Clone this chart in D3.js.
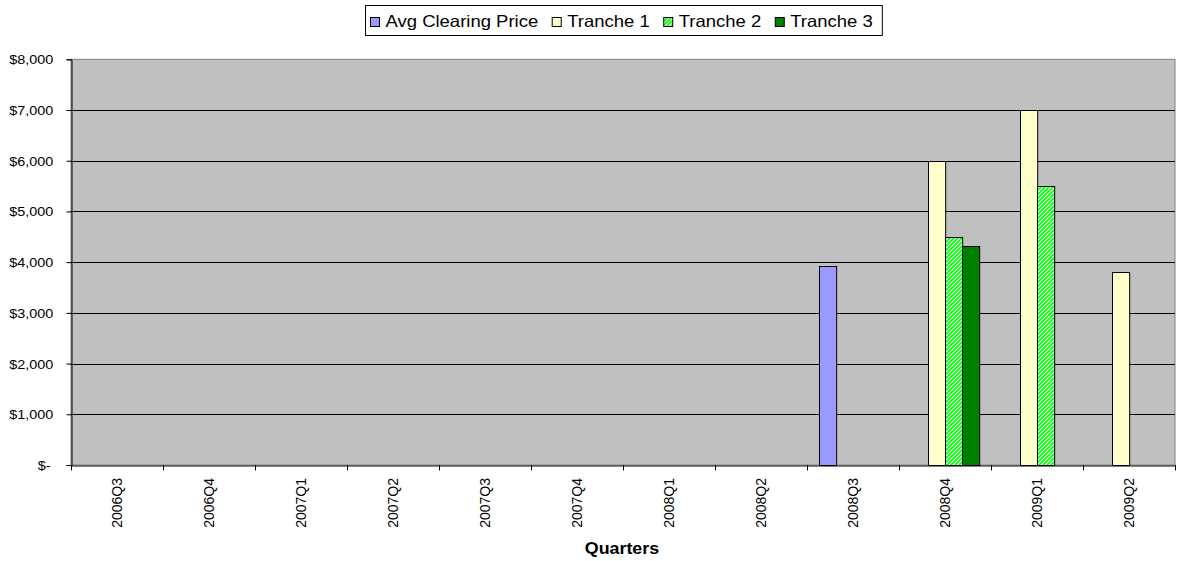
<!DOCTYPE html>
<html>
<head>
<meta charset="utf-8">
<script src="https://d3js.org/d3.v7.min.js"></script>
<style>
  html, body { margin: 0; padding: 0; background: #ffffff; }
  svg { display: block; }
  text { font-family: Arial, "Liberation Sans", sans-serif; fill: #000; }
</style>
</head>
<body>
<svg id="chart" width="1179" height="561"></svg>
<script>
// ---- data ----
const quarters = ["2006Q3","2006Q4","2007Q1","2007Q2","2007Q3","2007Q4","2008Q1","2008Q2","2008Q3","2008Q4","2009Q1","2009Q2"];
const seriesNames = ["Avg Clearing Price","Tranche 1","Tranche 2","Tranche 3"];
const avgClearingPrice = [null,null,null,null,null,null,null,null,3930,null,null,null];
const tranche1 = [null,null,null,null,null,null,null,null,null,6000,7000,3800];
const tranche2 = [null,null,null,null,null,null,null,null,null,4500,5500,null];
const tranche3 = [null,null,null,null,null,null,null,null,null,4310,null,null];
const yTickValues = [0,1000,2000,3000,4000,5000,6000,7000,8000];
const xAxisTitle = "Quarters";

// ---- layout ----
const svg = d3.select("#chart");
const plot = { left: 71, right: 1175, top: 59.3, bottom: 465 };
const seriesValues = [avgClearingPrice, tranche1, tranche2, tranche3];

const defs = svg.append("defs");
const pat = defs.append("pattern")
  .attr("id", "hatch").attr("patternUnits", "userSpaceOnUse")
  .attr("width", 4).attr("height", 4);
pat.append("rect").attr("width", 4).attr("height", 4).attr("fill", "#ffffff");
pat.append("path").attr("d", "M-1,1 L1,-1 M0,4 L4,0 M3,5 L5,3")
  .attr("stroke", "#00ff00").attr("stroke-width", 1.7);

const fills = ["#9999ff", "#ffffcc", "url(#hatch)", "#008000"];

function stretch(sel, sx) {
  sel.each(function() {
    const L = this.getComputedTextLength();
    d3.select(this).attr("textLength", L * sx).attr("lengthAdjust", "spacingAndGlyphs");
  });
}

const x0 = d3.scaleBand().domain(quarters).range([plot.left, plot.right]).paddingInner(0).paddingOuter(0);
const x1 = d3.scaleBand().domain(seriesNames).range([0, x0.bandwidth()]).paddingInner(0).paddingOuter(0.68);
const y = d3.scaleLinear().domain([0, 8000]).range([plot.bottom, plot.top]);

// plot background
svg.append("rect")
  .attr("x", plot.left).attr("y", plot.top)
  .attr("width", plot.right - plot.left).attr("height", plot.bottom - plot.top)
  .attr("fill", "#c0c0c0").attr("stroke", "#808080").attr("stroke-width", 1);

// gridlines
svg.append("g").selectAll("line")
  .data(yTickValues.filter(d => d > 0 && d < 8000))
  .join("line")
  .attr("x1", plot.left).attr("x2", plot.right)
  .attr("y1", d => Math.round(y(d)) + 0.5).attr("y2", d => Math.round(y(d)) + 0.5)
  .attr("stroke", "#000").attr("stroke-width", 1);

// bars
const data = [];
quarters.forEach((q, i) => {
  seriesNames.forEach((s, j) => {
    const v = seriesValues[j][i];
    if (v != null) data.push({ q, s, v, j });
  });
});
svg.append("g").selectAll("rect")
  .data(data)
  .join("rect")
  .attr("x", d => Math.round(x0(d.q) + x1(d.s)) + 0.5)
  .attr("y", d => Math.round(y(d.v)) + 0.5)
  .attr("width", x1.bandwidth())
  .attr("height", d => Math.round(y(0)) - Math.round(y(d.v)))
  .attr("fill", d => fills[d.j])
  .attr("stroke", "#000").attr("stroke-width", 1);

// y axis
const yAxis = d3.axisLeft(y).tickValues(yTickValues).tickSize(5).tickPadding(13)
  .tickFormat(d => d === 0 ? "$-" : "$" + d3.format(",")(d));
const gy = svg.append("g").attr("transform", `translate(${plot.left + 0.5},0)`).call(yAxis);
gy.select(".domain").attr("stroke", "#000");
gy.selectAll(".tick line").attr("stroke", "#000");
gy.selectAll(".tick text")
  .style("font-size", "12px").attr("fill", "#000")
  .attr("dy", "0.37em")
  .attr("x", d => d === 0 ? -21 : -18.3);
gy.selectAll(".tick text").call(stretch, 1.2);

// x axis
const xAxis = d3.axisBottom(x0).tickSize(0).tickFormat("");
const gx = svg.append("g").attr("transform", `translate(0,${plot.bottom + 0.5})`).call(xAxis);
gx.select(".domain").attr("stroke", "#000");
gx.selectAll(".tick").remove();
// tick marks at band boundaries
const boundaries = quarters.map(q => x0(q)).concat([plot.right]);
svg.append("g").selectAll("line")
  .data(boundaries)
  .join("line")
  .attr("x1", d => Math.round(d) + 0.5).attr("x2", d => Math.round(d) + 0.5)
  .attr("y1", plot.bottom).attr("y2", plot.bottom + 5.5)
  .attr("stroke", "#000");

// x labels
svg.append("g").selectAll("text")
  .data(quarters)
  .join("text")
  .attr("transform", d => `translate(${x0(d) + x0.bandwidth() / 2 + 5},478) rotate(-90)`)
  .attr("text-anchor", "end")
  .style("font-size", "14px")
  .text(d => d);

// x axis title
svg.append("text")
  .attr("x", 622).attr("y", 554)
  .attr("text-anchor", "middle")
  .style("font-size", "16.5px").style("font-weight", "bold")
  .text(xAxisTitle)
  .call(stretch, 1.08);

// legend
const legend = svg.append("g");
const legendBox = legend.append("rect").attr("fill", "#fff").attr("stroke", "#000").attr("stroke-width", 1);
let cx = 5;
seriesNames.forEach((s, j) => {
  const g = legend.append("g");
  g.append("rect").attr("x", cx + 0.5).attr("y", 17.5).attr("width", 9).attr("height", 9)
    .attr("fill", fills[j]).attr("stroke", "#000").attr("stroke-width", 1);
  const t = g.append("text").attr("x", cx + 15.5).attr("y", 27)
    .style("font-size", "16.5px").text(s);
  t.call(stretch, 1.12);
  const w = +t.attr("textLength");
  cx += 15.5 + w + (j < seriesNames.length - 1 ? 13.5 : 9);
});
const boxW = cx;
const boxX = Math.round((plot.left + plot.right) / 2 - boxW / 2);
legend.attr("transform", `translate(${boxX},0)`);
legendBox.attr("x", 0.5).attr("y", 5.5).attr("width", boxW).attr("height", 30);
</script>
</body>
</html>
